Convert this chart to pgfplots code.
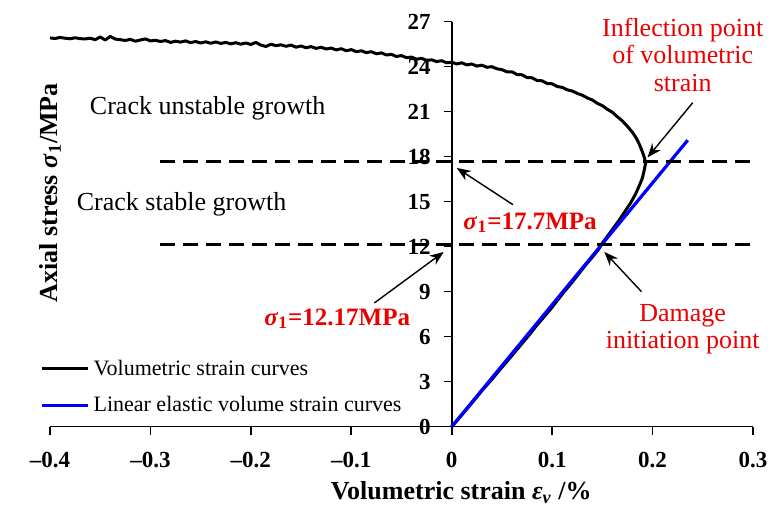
\documentclass[border=0pt]{standalone}
\usepackage{fontspec}
\setmainfont{Liberation Serif}
\usepackage{pgfplots}
\pgfplotsset{compat=1.18}
\usetikzlibrary{arrows.meta}
\definecolor{annred}{RGB}{235,0,0}
\definecolor{lineblue}{RGB}{0,0,255}

\begin{document}
\begin{tikzpicture}
\begin{axis}[
  name=ax,
  scale only axis, width=351.5pt, height=202.5pt,
  xmin=-0.4, xmax=0.3, ymin=0, ymax=27,
  axis x line=bottom, axis y line=middle,
  axis line style={-, line width=0.8pt},
  hide obscured x ticks=false, hide obscured y ticks=false,
  xtick={-0.4,-0.3,-0.2,-0.1,0,0.1,0.2,0.3},
  xticklabels={--0.4,--0.3,--0.2,--0.1,0,0.1,0.2,0.3},
  ytick={0,3,6,9,12,15,18,21,24,27},
  yticklabels={0,3,6,9,12,15,18,21,24,27},
  xtick align=outside, ytick align=outside,
  major tick length=4pt,
  tick style={line width=0.8pt, black},
  ticklabel style={font=\bfseries\fontsize{11.5}{13}\selectfont},
  x tick label style={yshift=-5pt},
  y tick label style={xshift=-3pt},
  xlabel={Volumetric strain \textit{ε}\textsubscript{\textit{v}} /\%},
  ylabel={Axial stress \textit{σ}\textsubscript{1}/MPa},
  every axis x label/.style={at={(rel axis cs:0.585,0)}, anchor=center, yshift=-33pt, font=\bfseries\fontsize{13}{15}\selectfont},
  every axis y label/.style={at={(rel axis cs:0,0.622)}, anchor=center, rotate=90, xshift=-9pt, font=\bfseries\fontsize{13}{15}\selectfont},
  legend style={draw=none, fill=none, inner sep=0pt, at={(rel axis cs:0,0)}, anchor=south west, xshift=-5pt, yshift=4pt, font=\fontsize{11}{13}\selectfont, row sep=5pt, cells={anchor=west}},
  legend image code/.code={\draw[#1] (0pt,0pt) -- (23pt,0pt);},
  clip=false,
]
\addplot[black, line width=1.5pt, line join=round] coordinates {
(-0.400,25.92) (-0.395,25.88) (-0.390,25.95) (-0.385,25.90) (-0.380,25.86) (-0.375,25.93) (-0.370,25.87) (-0.365,25.85)
(-0.360,25.90) (-0.355,25.80) (-0.350,25.98) (-0.345,25.78) (-0.340,26.02) (-0.335,25.84) (-0.330,25.80) (-0.325,25.75)
(-0.320,25.82) (-0.315,25.70) (-0.310,25.78) (-0.305,25.85) (-0.300,25.72) (-0.295,25.76) (-0.290,25.68) (-0.285,25.74)
(-0.280,25.62) (-0.275,25.70) (-0.270,25.64) (-0.265,25.72) (-0.260,25.60) (-0.255,25.68) (-0.250,25.58) (-0.245,25.66)
(-0.240,25.56) (-0.235,25.65) (-0.230,25.55) (-0.225,25.62) (-0.220,25.52) (-0.215,25.60) (-0.210,25.50) (-0.205,25.58)
(-0.200,25.48) (-0.195,25.62) (-0.190,25.44) (-0.185,25.35) (-0.180,25.50) (-0.175,25.40) (-0.170,25.46) (-0.165,25.36)
(-0.160,25.44) (-0.155,25.30) (-0.150,25.38) (-0.145,25.26) (-0.140,25.34) (-0.135,25.22) (-0.130,25.30) (-0.125,25.18)
(-0.120,25.24) (-0.115,25.12) (-0.110,25.20) (-0.105,25.06) (-0.100,25.14) (-0.095,25.00) (-0.090,25.06) (-0.085,24.94)
(-0.080,25.00) (-0.075,24.86) (-0.070,24.92) (-0.065,24.78) (-0.060,24.82) (-0.055,24.68) (-0.050,24.74) (-0.045,24.60)
(-0.040,24.64) (-0.035,24.50) (-0.030,24.56) (-0.025,24.42) (-0.020,24.46) (-0.015,24.34) (-0.010,24.40) (-0.005,24.26)
(0.000,24.30) (0.005,24.18) (0.010,24.26) (0.015,24.12) (0.020,24.18) (0.025,24.04) (0.030,24.10) (0.035,23.96)
(0.040,24.00) (0.045,23.86) (0.050,23.80) (0.055,23.66) (0.060,23.66) (0.065,23.48) (0.070,23.46) (0.075,23.28)
(0.080,23.26) (0.085,23.08) (0.090,23.06) (0.095,22.88) (0.100,22.86) (0.105,22.68) (0.110,22.62) (0.115,22.46)
(0.120,22.38) (0.125,22.22) (0.130,22.10) (0.135,21.92) (0.140,21.78) (0.145,21.56) (0.150,21.40) (0.155,21.16)
(0.160,20.96) (0.165,20.66) (0.170,20.38) (0.175,20.02) (0.180,19.62) (0.184,19.22) (0.187,18.80) (0.190,18.30)
(0.192,17.90) (0.193,17.55) (0.192,17.20) (0.190,16.60) (0.187,16.10) (0.183,15.50) (0.178,14.90) (0.172,14.30)
(0.166,13.70) (0.160,13.15) (0.154,12.60) (0.149,12.15) (0.146,11.80) (0.140,11.30) (0.133,10.75) (0.126,10.15)
(0.119,9.55) (0.112,9.00) (0.105,8.40) (0.098,7.80) (0.091,7.25) (0.084,6.70) (0.077,6.10) (0.070,5.55)
(0.062,4.90) (0.055,4.35) (0.048,3.80) (0.040,3.15) (0.032,2.55) (0.024,1.90) (0.016,1.25) (0.008,0.62) (0.000,0.00)
};
\addlegendentry{Volumetric strain curves}
\addplot[lineblue, line width=1.6pt] coordinates {(0,0) (0.235,19.1)};
\addlegendentry{Linear elastic volume strain curves}
\addplot[black, line width=1.4pt, dash pattern=on 7.5pt off 4pt, forget plot] coordinates {(-0.29,17.7) (0.30,17.7)};
\addplot[black, line width=1.4pt, dash pattern=on 7.5pt off 4pt, forget plot] coordinates {(-0.29,12.17) (0.30,12.17)};

\node[font=\fontsize{13}{15}\selectfont] at (axis cs:-0.243,21.2) {Crack unstable growth};
\node[font=\fontsize{13}{15}\selectfont] at (axis cs:-0.269,14.8) {Crack stable growth};
\node[font=\bfseries\fontsize{12.5}{15}\selectfont, text=annred] at (axis cs:0.078,13.6) {\textit{σ}\textsubscript{1}=17.7MPa};
\node[font=\bfseries\fontsize{12.5}{15}\selectfont, text=annred] at (axis cs:-0.114,7.2) {\textit{σ}\textsubscript{1}=12.17MPa};
\node[font=\fontsize{13}{13.8}\selectfont, text=annred, align=center] at (axis cs:0.23,24.8) {Inflection point\\of volumetric\\strain};
\node[font=\fontsize{13}{13.8}\selectfont, text=annred, align=center] at (axis cs:0.23,6.5) {Damage\\initiation point};
\draw[line width=0.7pt, -{Stealth[length=7pt,width=5.5pt]}] (axis cs:0.061,14.8) -- (axis cs:0.005,17.25);
\draw[line width=0.7pt, -{Stealth[length=7pt,width=5.5pt]}] (axis cs:-0.077,8.25) -- (axis cs:-0.008,11.65);
\draw[line width=0.7pt, -{Stealth[length=7pt,width=5.5pt]}] (axis cs:0.24,21.6) -- (axis cs:0.195,17.95);
\draw[line width=0.7pt, -{Stealth[length=7pt,width=5.5pt]}] (axis cs:0.189,9.0) -- (axis cs:0.152,11.65);
\end{axis}
\pgfresetboundingbox
\path ([xshift=-25pt,yshift=-40.65pt]ax.south west) rectangle ([xshift=9pt,yshift=10.85pt]ax.north east);
\end{tikzpicture}
\end{document}
